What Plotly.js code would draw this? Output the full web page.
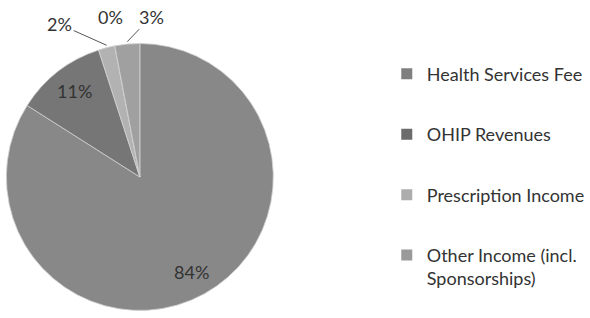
<!DOCTYPE html>
<html>
<head>
<meta charset="utf-8">
<script src="https://cdn.plot.ly/plotly-3.0.1.min.js"></script>
<style>html,body{margin:0;padding:0;background:#fff;}#chart{width:590px;height:318px;}</style>
</head>
<body>
<div id="chart"></div>
<script>
// Slices, clockwise from 12 o'clock
var sliceLabels = ["Health Services Fee", "OHIP Revenues", "Prescription Income", "Unlabelled", "Other Income (incl. Sponsorships)"];
var sliceValues = [84, 11, 2, 0, 3];
var sliceColors = ["#888888", "#767676", "#b2b2b2", "#8a8a8a", "#a0a0a0"];

// Legend entries as shown in the chart
var legendNames = ["Health Services Fee", "OHIP Revenues", "Prescription Income", "Other Income (incl.<br>Sponsorships)"];
var legendColors = ["#7f7f7f", "#6c6c6c", "#adadad", "#9a9a9a"];

// Label placement styling (inside: fraction of radius; otherwise pixel offsets from the slice edge)
var labelStyle = [
  {inside: 0.8},
  {inside: 0.8},
  {ax: -47, ay: -21, line: true},
  {ax: -4, ay: -26, line: false},
  {ax: 24, ay: -25, line: true}
];

var W = 590, H = 318;
var font = "Lato, 'Open Sans', sans-serif";
var domX = [0.0110, 0.4720], domY = [0.0160, 0.8710];

// pie geometry as Plotly computes it from the domain
var pw = W * (domX[1] - domX[0]), ph = H * (domY[1] - domY[0]);
var R = Math.min(pw, ph) / 2;
var cx = W * (domX[0] + domX[1]) / 2;          // px from left
var cy = H * (1 - (domY[0] + domY[1]) / 2);    // px from top

var total = sliceValues.reduce(function (a, b) { return a + b; }, 0);
var annotations = [];
var cum = 0;
sliceValues.forEach(function (v, i) {
  var mid = (cum + v / 2) / total * 2 * Math.PI; // clockwise from top
  cum += v;
  var st = labelStyle[i];
  var txt = Math.round(v / total * 100) + "%";
  var rr = st.inside ? st.inside * R : R;
  var px = cx + rr * Math.sin(mid), py = cy - rr * Math.cos(mid);
  var a = {
    xref: "paper", yref: "paper",
    x: px / W, y: 1 - py / H,
    xanchor: "center", yanchor: "middle",
    text: txt,
    font: {family: font, size: 18, color: "#333"}
  };
  if (st.inside) {
    a.showarrow = false;
  } else {
    a.showarrow = true;
    a.arrowhead = 0;
    a.arrowwidth = 1;
    a.arrowcolor = st.line ? "#555" : "rgba(0,0,0,0)";
    a.ax = st.ax; a.ay = st.ay;
    a.standoff = 0;
  }
  annotations.push(a);
});

var traces = [{
  type: "pie",
  labels: sliceLabels,
  values: sliceValues,
  sort: false,
  direction: "clockwise",
  rotation: 0,
  marker: {colors: sliceColors, line: {color: "#d0d0d0", width: 0.8}},
  textinfo: "none",
  showlegend: false,
  domain: {x: domX, y: domY},
  hoverinfo: "label+percent"
}];

legendNames.forEach(function (n, i) {
  traces.push({
    type: "scatter",
    mode: "markers",
    x: [null], y: [null],
    name: n,
    legendgroup: "g" + i,
    marker: {symbol: "square", size: 11, color: legendColors[i]},
    showlegend: true,
    hoverinfo: "skip"
  });
});

var layout = {
  width: W, height: H,
  margin: {l: 0, r: 0, t: 0, b: 0},
  paper_bgcolor: "#fff", plot_bgcolor: "#fff",
  font: {family: font, size: 18, color: "#333"},
  xaxis: {visible: false, domain: [0.6, 0.61]},
  yaxis: {visible: false},
  showlegend: true,
  annotations: annotations,
  legend: {
    x: 0.668, xanchor: "left",
    y: 0.825, yanchor: "top",
    valign: "top",
    tracegroupgap: 34,
    font: {family: font, size: 18, color: "#333"},
    bgcolor: "rgba(0,0,0,0)"
  }
};

Plotly.newPlot("chart", traces, layout, {staticPlot: true});
</script>
</body>
</html>
